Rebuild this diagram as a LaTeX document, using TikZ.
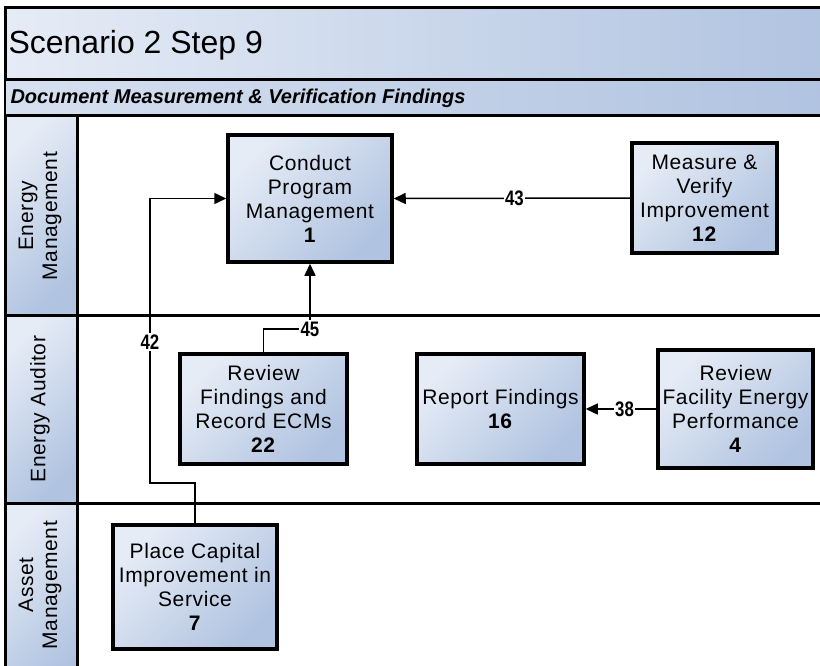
\documentclass[tikz,border=0pt]{standalone}
\usepackage{fontspec}
\setmainfont{Liberation Sans}
\newfontfamily\boxfont[LetterSpace=3]{Liberation Sans}
\newfontfamily\flowfont[FakeStretch=0.8]{Liberation Sans}
\usetikzlibrary{arrows.meta}
\definecolor{bluelight}{HTML}{E6ECF6}
\definecolor{bluedark}{HTML}{B0C3E0}

\begin{document}
\begin{tikzpicture}[x=1pt,y=-1pt,
    task/.style={draw,line width=3.5pt,top color=bluelight,bottom color=bluedark,
        shading angle=45,align=center,inner sep=1pt,
        font=\boxfont\fontsize{21}{24}\selectfont},
    flow/.style={-{Triangle[length=12pt,width=11pt]},line width=1.5pt},
    lbl/.style={fill=white,inner sep=1.5pt,font=\flowfont\fontsize{21}{21}\selectfont\bfseries}
]
    \useasboundingbox (0,0) rectangle (820,666);
    \clip (0,0) rectangle (820,666);
    % title and subtitle bands
    \draw [line width=3pt,left color=bluelight,right color=bluedark] (5,8) rectangle (830,80);
    \node [anchor=west,font=\fontsize{32}{32}\selectfont] (title) at (5,45) {Scenario 2 Step 9};
    \draw [line width=2pt,left color=bluelight!70!bluedark,right color=bluedark] (5,80) rectangle (830,116);
    \node [anchor=west,font=\fontsize{20}{20}\selectfont\bfseries\itshape] (subtitle) at (7,98)
        {Document Measurement \& Verification Findings};
    % swim lanes
    \foreach \top/\bot/\mid/\name in {116/315/216/{Energy\\Management},
                                      315/503/409/{Energy Auditor},
                                      503/690/585/{Asset\\Management}} {
        \draw [line width=3pt,top color=bluelight,bottom color=bluedark,shading angle=45]
            (5,\top) rectangle (77,\bot);
        \draw [line width=3pt,fill=white] (77,\top) rectangle (830,\bot);
        \node [rotate=90,align=center,font=\boxfont\fontsize{21}{24}\selectfont] at (40,\mid) {\name};
    }
    % tasks
    \node [task,minimum width=164pt,minimum height=127pt] (p1) at (310,198.5)
        {Conduct\\Program\\Management\\\textbf{1}};
    \node [task,minimum width=145pt,minimum height=110pt] (p12) at (704.5,198)
        {Measure \&\\Verify\\Improvement\\\textbf{12}};
    \node [task,minimum width=167pt,minimum height=110pt] (p22) at (263.5,409)
        {Review\\Findings and\\Record ECMs\\\textbf{22}};
    \node [task,minimum width=167pt,minimum height=110pt] (p16) at (500.5,409)
        {Report Findings\\\textbf{16}};
    \node [task,minimum width=155pt,minimum height=118pt] (p4) at (735.5,409)
        {Review\\Facility Energy\\Performance\\\textbf{4}};
    \node [task,minimum width=164pt,minimum height=124pt] (p7) at (195,587)
        {Place Capital\\Improvement in\\Service\\\textbf{7}};
    % flows
    \coordinate (b42) at (150,483);
    \coordinate (c45) at (310,329);
    \draw [flow] (p12.west) -- (p1.east) node [lbl,pos=0.49] (l43) {43};
    \draw [flow] (p4.west) -- (p16.east) node [lbl,pos=0.45] (l38) {38};
    \draw [flow] (p22.north) |- (c45) -- (p1.south);
    \node [lbl] (l45) at (c45) {45};
    \draw [flow] (p7.north) |- (b42) |- (p1.west);
    \node [lbl] (l42) at (150,342) {42};
\end{tikzpicture}
\end{document}
